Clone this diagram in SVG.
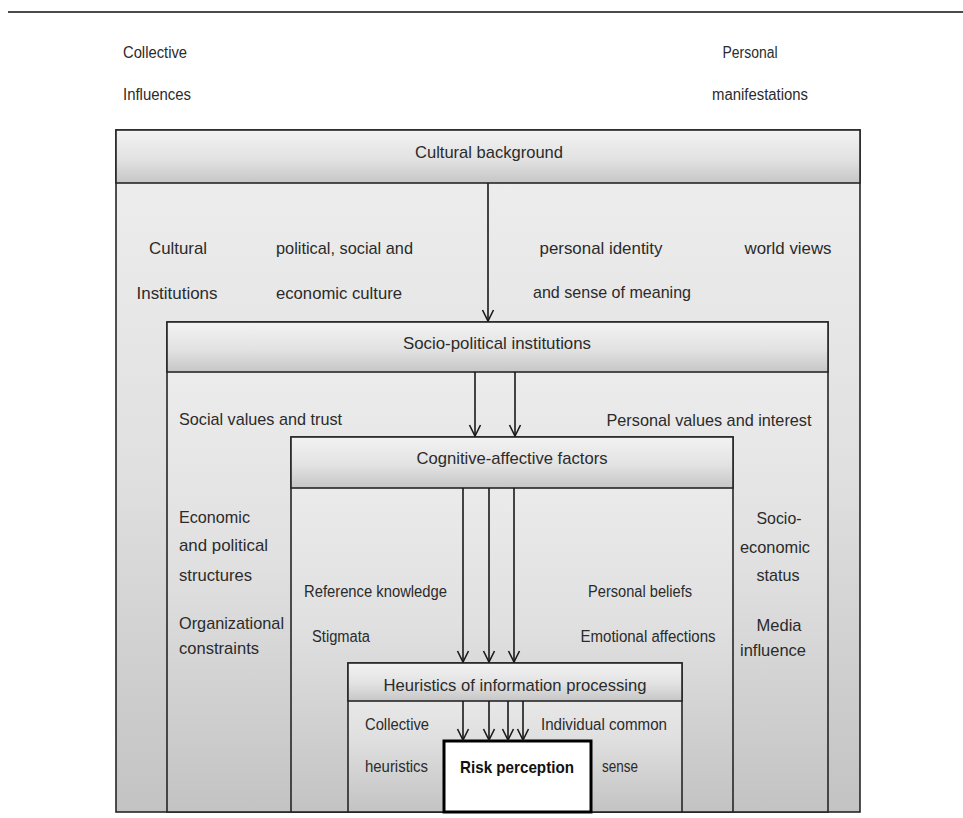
<svg xmlns="http://www.w3.org/2000/svg" width="963" height="818" viewBox="0 0 963 818">
  <style>
    text { font-family: "Liberation Sans", Arial, sans-serif; fill: #2b2b2b; font-size: 17px; }
    .sm { font-size: 16px; }
    .mid { text-anchor: middle; }
    .bold { font-weight: bold; fill: #111; }
    .frame { stroke: #262626; stroke-width: 1.6; }
    .body { fill: url(#bodyGrad); }
    .head { fill: url(#headGrad); }
    .conn { stroke: #1a1a1a; stroke-width: 1.6; fill: none; marker-end: url(#arrow); }
  </style>
  <defs>
    <linearGradient id="bodyGrad" x1="0" y1="0" x2="0" y2="1">
      <stop offset="0" stop-color="#efefef"/>
      <stop offset="0.5" stop-color="#e0e0e0"/>
      <stop offset="1" stop-color="#c3c3c3"/>
    </linearGradient>
    <linearGradient id="headGrad" x1="0" y1="0" x2="0" y2="1">
      <stop offset="0" stop-color="#f3f3f3"/>
      <stop offset="0.55" stop-color="#e2e2e2"/>
      <stop offset="1" stop-color="#c6c6c6"/>
    </linearGradient>
    <marker id="arrow" viewBox="-13 -7 14 14" refX="0" refY="0" markerWidth="14" markerHeight="14" markerUnits="userSpaceOnUse" orient="auto">
      <path d="M-11,-5.5 L0,0 L-11,5.5" fill="none" stroke="#1a1a1a" stroke-width="1.6"/>
    </marker>
  </defs>

  <rect x="0" y="0" width="963" height="818" fill="#ffffff"/>
  <line x1="8" y1="12" x2="963" y2="12" stroke="#4a4a4a" stroke-width="2"/>

  <g id="top-labels">
    <text x="123" y="58" textLength="64" lengthAdjust="spacingAndGlyphs" class="sm">Collective</text>
    <text x="123" y="100" textLength="68" lengthAdjust="spacingAndGlyphs" class="sm">Influences</text>
    <text x="750" y="58" class="sm mid" textLength="55" lengthAdjust="spacingAndGlyphs">Personal</text>
    <text x="760" y="100" class="sm mid" textLength="96" lengthAdjust="spacingAndGlyphs">manifestations</text>
  </g>

  <g id="cultural-background">
    <rect x="116" y="130" width="744" height="682" class="body frame"/>
    <rect x="116" y="130" width="744" height="53" class="head frame"/>
    <text x="489" y="158" class="mid" textLength="148" lengthAdjust="spacingAndGlyphs">Cultural background</text>
    <text x="178" y="254" class="mid" textLength="58" lengthAdjust="spacingAndGlyphs">Cultural</text>
    <text x="177" y="299" class="mid" textLength="81" lengthAdjust="spacingAndGlyphs">Institutions</text>
    <text x="276" y="254" textLength="137" lengthAdjust="spacingAndGlyphs">political, social and</text>
    <text x="276" y="299" textLength="126" lengthAdjust="spacingAndGlyphs">economic culture</text>
    <text x="601" y="254" class="mid" textLength="123" lengthAdjust="spacingAndGlyphs">personal identity</text>
    <text x="612" y="298" class="mid" textLength="158" lengthAdjust="spacingAndGlyphs">and sense of meaning</text>
    <text x="788" y="254" class="mid" textLength="87" lengthAdjust="spacingAndGlyphs">world views</text>
  </g>

  <g id="socio-political-institutions">
    <rect x="167" y="322" width="661" height="490" class="body frame"/>
    <rect x="167" y="322" width="661" height="50" class="head frame"/>
    <text x="497" y="349" class="mid" textLength="188" lengthAdjust="spacingAndGlyphs">Socio-political institutions</text>
    <text x="179" y="425" textLength="163" lengthAdjust="spacingAndGlyphs">Social values and trust</text>
    <text x="709" y="426" class="mid" textLength="205" lengthAdjust="spacingAndGlyphs">Personal values and interest</text>
    <text x="179" y="523" textLength="71" lengthAdjust="spacingAndGlyphs">Economic</text>
    <text x="179" y="551" textLength="89" lengthAdjust="spacingAndGlyphs">and political</text>
    <text x="179" y="581" textLength="73" lengthAdjust="spacingAndGlyphs">structures</text>
    <text x="179" y="629" textLength="105" lengthAdjust="spacingAndGlyphs">Organizational</text>
    <text x="179" y="654" textLength="80" lengthAdjust="spacingAndGlyphs">constraints</text>
    <text x="779" y="524" class="mid" textLength="45" lengthAdjust="spacingAndGlyphs">Socio-</text>
    <text x="775" y="553" class="mid" textLength="70" lengthAdjust="spacingAndGlyphs">economic</text>
    <text x="778" y="581" class="mid" textLength="43" lengthAdjust="spacingAndGlyphs">status</text>
    <text x="779" y="631" class="mid" textLength="45" lengthAdjust="spacingAndGlyphs">Media</text>
    <text x="773" y="656" class="mid" textLength="66" lengthAdjust="spacingAndGlyphs">influence</text>
  </g>

  <g id="cognitive-affective-factors">
    <rect x="291" y="437" width="442" height="375" class="body frame"/>
    <rect x="291" y="437" width="442" height="51" class="head frame"/>
    <text x="512" y="464" class="mid" textLength="191" lengthAdjust="spacingAndGlyphs">Cognitive-affective factors</text>
    <text x="304" y="597" class="sm" textLength="143" lengthAdjust="spacingAndGlyphs">Reference knowledge</text>
    <text x="312" y="642" class="sm" textLength="58" lengthAdjust="spacingAndGlyphs">Stigmata</text>
    <text x="640" y="597" class="sm mid" textLength="104" lengthAdjust="spacingAndGlyphs">Personal beliefs</text>
    <text x="648" y="642" class="sm mid" textLength="135" lengthAdjust="spacingAndGlyphs">Emotional affections</text>
  </g>

  <g id="heuristics-of-information-processing">
    <rect x="348" y="663" width="334" height="149" class="body frame"/>
    <rect x="348" y="663" width="334" height="38" class="head frame"/>
    <text x="515" y="691" class="mid" textLength="263" lengthAdjust="spacingAndGlyphs">Heuristics of information processing</text>
    <text x="365" y="730" class="sm" textLength="64" lengthAdjust="spacingAndGlyphs">Collective</text>
    <text x="365" y="772" class="sm" textLength="63" lengthAdjust="spacingAndGlyphs">heuristics</text>
    <text x="541" y="730" class="sm" textLength="126" lengthAdjust="spacingAndGlyphs">Individual common</text>
    <text x="602" y="772" class="sm" textLength="36" lengthAdjust="spacingAndGlyphs">sense</text>
  </g>

  <g id="risk-perception">
    <rect x="444" y="741" width="147" height="71" fill="#ffffff" stroke="#000000" stroke-width="3"/>
    <text x="517" y="773" class="mid bold" textLength="114" lengthAdjust="spacingAndGlyphs">Risk perception</text>
  </g>

  <g id="connectors">
    <line x1="488" y1="183" x2="488" y2="321" class="conn"/>
    <line x1="475" y1="372" x2="475" y2="436" class="conn"/>
    <line x1="515" y1="372" x2="515" y2="436" class="conn"/>
    <line x1="463" y1="488" x2="463" y2="662" class="conn"/>
    <line x1="489" y1="488" x2="489" y2="662" class="conn"/>
    <line x1="514" y1="488" x2="514" y2="662" class="conn"/>
    <line x1="463" y1="701" x2="463" y2="740" class="conn"/>
    <line x1="489" y1="701" x2="489" y2="740" class="conn"/>
    <line x1="508" y1="701" x2="508" y2="740" class="conn"/>
    <line x1="523" y1="701" x2="523" y2="740" class="conn"/>
  </g>
</svg>
